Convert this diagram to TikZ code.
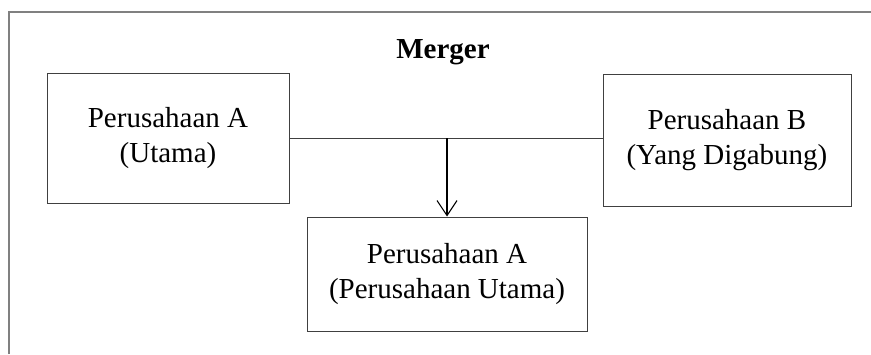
\documentclass[tikz,border=0pt]{standalone}
\usepackage{fontspec}
\setmainfont{Liberation Serif}
\usetikzlibrary{arrows.meta}
\begin{document}
\begin{tikzpicture}[x=1pt,y=-1pt,
  box/.style={draw=black!75,line width=1pt,inner sep=0pt,align=center,
    font=\fontsize{29}{35}\selectfont},
  frame/.style={draw=black!50,line width=1.6pt},
  link/.style={draw=black!75,line width=1pt},
  arr/.style={draw=black,line width=1.3pt,-{Straight Barb[length=15pt,width=20pt,line width=1.1pt]}}]
\useasboundingbox (0,0) rectangle (871,354);
\draw[frame] (9,354) -- (9,12) -- (871,12);
\node[anchor=base,font=\fontsize{29}{35}\selectfont\bfseries] (title) at (443,58) {Merger};
\node[box,minimum width=242pt,minimum height=130pt] (a) at (168,138) {Perusahaan A\\(Utama)};
\node[box,minimum width=248pt,minimum height=132pt] (b) at (727,140) {Perusahaan B\\(Yang Digabung)};
\node[box,minimum width=280pt,minimum height=114pt] (c) at (447,274) {Perusahaan A\\(Perusahaan Utama)};
\coordinate (j) at (c.north |- a.east);
\draw[link] (a.east) -- (a.east -| b.west);
\draw[arr] (j) -- (c.north);
\end{tikzpicture}
\end{document}
